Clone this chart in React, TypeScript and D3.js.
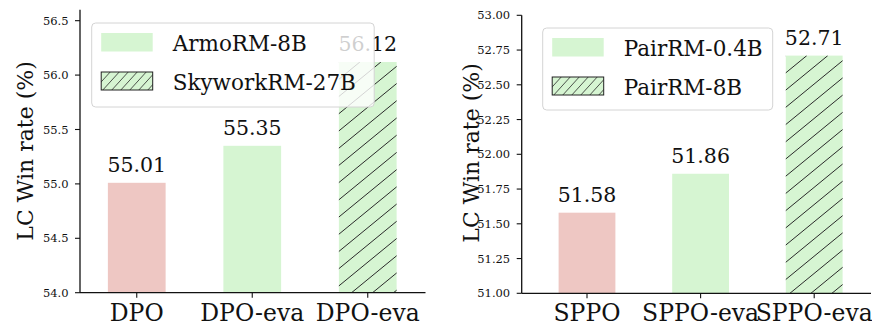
import React from "react";
import * as d3 from "d3";

const leftCats = ["DPO", "DPO-eva", "DPO-eva"];
const leftVals = [55.01, 55.35, 56.12];
const leftTicks = [54.0, 54.5, 55.0, 55.5, 56.0, 56.5];
const leftLegend = ["ArmoRM-8B", "SkyworkRM-27B"];

const rightCats = ["SPPO", "SPPO-eva", "SPPO-eva"];
const rightVals = [51.58, 51.86, 52.71];
const rightTicks = [51.0, 51.25, 51.5, 51.75, 52.0, 52.25, 52.5, 52.75, 53.0];
const rightLegend = ["PairRM-0.4B", "PairRM-8B"];

const barKinds = ["base", "plain", "hatch"];

const RED = "#eec7c3";
const GREEN = "#d6f5d2";
const FONT = "'DejaVu Serif', serif";

// "/" hatch lines covering a box; clipped by caller
const hatch = (bx: number, by: number, bw: number, bh: number, step: number, slope: number) => {
  const run = bh / slope;
  return d3.range(bx - run - step, bx + bw + step, step).map(c => ({
    x1: c, y1: by + bh, x2: c + run, y2: by,
  }));
};

type PanelProps = {
  id: string;
  cats: string[];
  vals: number[];
  ticks: number[];
  legend: string[];
  fmt: string;
  axisX: number;
  bandRange: [number, number];
  yDomain: [number, number];
  yRange: [number, number];
  labelX: number;
  labelY: number;
  legendBox: { x: number; y: number; w: number; h: number };
};

const Panel = (p: PanelProps) => {
  const x = d3.scaleBand<number>()
    .domain(p.cats.map((_, i) => i))
    .range(p.bandRange)
    .paddingInner(0.5)
    .paddingOuter(0.25);
  const y = d3.scaleLinear().domain(p.yDomain).range(p.yRange);
  const f = d3.format(p.fmt);
  const y0 = y(p.yDomain[0]);
  const lb = p.legendBox;
  const bw = x.bandwidth();

  return (
    <g>
      {p.vals.map((v, i) => {
        const bx = x(i)!;
        const by = y(v);
        const bh = y0 - by;
        const fill = barKinds[i] === "base" ? RED : GREEN;
        return (
          <g key={i}>
            <rect x={bx} y={by} width={bw} height={bh} fill={fill} />
            {barKinds[i] === "hatch" && (
              <g>
                <clipPath id={`${p.id}-clip${i}`}>
                  <rect x={bx} y={by} width={bw} height={bh} />
                </clipPath>
                <g clipPath={`url(#${p.id}-clip${i})`}>
                  {hatch(bx, by, bw, bh, 21, 0.82).map((l, k) => (
                    <line key={k} {...l} stroke="#2a2a2a" strokeWidth={1} />
                  ))}
                </g>
              </g>
            )}
            <text x={bx + bw / 2} y={by - 11} textAnchor="middle"
              fontSize={20.5} fontFamily={FONT} fill="#111">{v.toFixed(2)}</text>
          </g>
        );
      })}

      {/* spines */}
      <line x1={p.axisX} x2={p.axisX} y1={p.yRange[1]} y2={y0} stroke="#111" strokeWidth={1.3} />
      <line x1={p.axisX} x2={p.bandRange[1]} y1={y0} y2={y0} stroke="#111" strokeWidth={1.3} />

      {p.ticks.map(t => (
        <g key={t}>
          <line x1={p.axisX - 5} x2={p.axisX} y1={y(t)} y2={y(t)} stroke="#111" strokeWidth={1.1} />
          <text x={p.axisX - 11.5} y={y(t)} dy="0.36em" textAnchor="end" fontSize={11.5}
            fontFamily={FONT} fill="#111">{f(t)}</text>
        </g>
      ))}

      {p.cats.map((c, i) => (
        <g key={i}>
          <line x1={x(i)! + bw / 2} x2={x(i)! + bw / 2} y1={y0} y2={y0 + 5}
            stroke="#111" strokeWidth={1.1} />
          <text x={x(i)! + bw / 2} y={y0 + 28} textAnchor="middle" fontSize={23.5}
            fontFamily={FONT} fill="#111">{c}</text>
        </g>
      ))}

      <text transform={`translate(${p.labelX},${p.labelY}) rotate(-90)`}
        textAnchor="middle" dy="0.36em" fontSize={22} fontFamily={FONT} fill="#111">LC Win rate (%)</text>

      {/* legend */}
      <rect x={lb.x} y={lb.y} width={lb.w} height={lb.h} rx={4} fill="white" fillOpacity={0.8}
        stroke="#d4d4d4" strokeWidth={1} />
      {p.legend.map((name, i) => {
        const ry = lb.y + 10 + i * 39;
        const px = lb.x + 9.5;
        return (
          <g key={name}>
            {i === 0 ? (
              <rect x={px} y={ry} width={51.5} height={18.5} fill={GREEN} />
            ) : (
              <g>
                <rect x={px} y={ry} width={51.5} height={18} fill={GREEN} />
                <clipPath id={`${p.id}-lclip`}>
                  <rect x={px} y={ry} width={51.5} height={18} />
                </clipPath>
                <g clipPath={`url(#${p.id}-lclip)`}>
                  {hatch(px, ry, 51.5, 18, 9, 1.1).map((l, k) => (
                    <line key={k} {...l} stroke="#2a2a2a" strokeWidth={0.8} />
                  ))}
                </g>
                <rect x={px} y={ry} width={51.5} height={18} fill="none" stroke="#222" strokeWidth={1} />
              </g>
            )}
            <text x={lb.x + 81} y={ry + 18} fontSize={21.5} fontFamily={FONT} fill="#111">{name}</text>
          </g>
        );
      })}
    </g>
  );
};

const App = () => {
  return (
    <svg width={872} height={326} style={{ position: "absolute", left: 0, top: 0, background: "white" }}>
      <rect width={872} height={326} fill="white" />
      <Panel id="l" cats={leftCats} vals={leftVals} ticks={leftTicks} legend={leftLegend} fmt=".1f"
        axisX={80} bandRange={[79, 425.5]} yDomain={[54, 56.6]} yRange={[292.7, 9.8]} labelX={25} labelY={151}
        legendBox={{ x: 91.7, y: 23, w: 282.5, h: 84 }} />
      <Panel id="r" cats={rightCats} vals={rightVals} ticks={rightTicks} legend={rightLegend} fmt=".2f"
        axisX={521.7} bandRange={[530.2, 871]} yDomain={[51, 53]} yRange={[293.3, 15.3]} labelX={471.5} labelY={153}
        legendBox={{ x: 542.7, y: 28, w: 230, h: 82 }} />
    </svg>
  );
};

export default App;
